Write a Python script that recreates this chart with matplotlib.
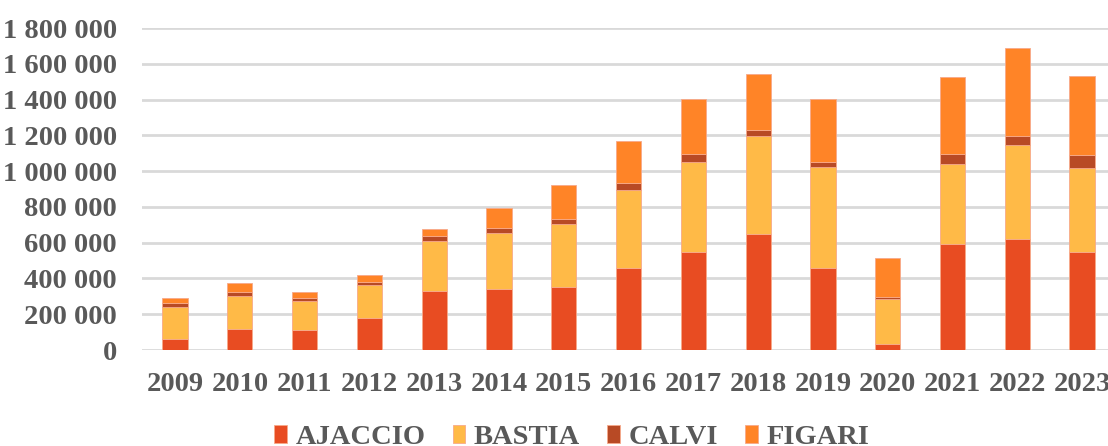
import numpy as np
import matplotlib.pyplot as plt
from matplotlib.ticker import FuncFormatter

years = ['2009', '2010', '2011', '2012', '2013', '2014', '2015', '2016',
         '2017', '2018', '2019', '2020', '2021', '2022', '2023']
ajaccio = [60000, 117000, 112000, 180000, 329000, 340000, 351000, 458000,
           547000, 649000, 460000, 33000, 592000, 620000, 549000]
bastia = [180000, 184000, 161000, 183000, 281000, 313000, 356000, 435000,
          504000, 547000, 563000, 254000, 446000, 524000, 469000]
calvi = [20000, 21000, 17000, 18000, 28000, 28000, 28000, 43000,
         43000, 34000, 30000, 9000, 56000, 50000, 70000]
figari = [28000, 52000, 36000, 36000, 39000, 110000, 190000, 231000,
          311000, 314000, 348000, 216000, 432000, 494000, 445000]

series = [('AJACCIO', ajaccio, '#E84C22'),
          ('BASTIA', bastia, '#FFBA47'),
          ('CALVI', calvi, '#B84A25'),
          ('FIGARI', figari, '#FF8427')]

txt_color = '#595959'
plt.rcParams['font.family'] = ['Liberation Serif', 'DejaVu Serif']
plt.rcParams['font.weight'] = 'bold'

fig = plt.figure(figsize=(11.08, 4.46), dpi=100)
ax = fig.add_axes([142 / 1108, (446 - 350) / 446, (1108 - 142) / 1108, (350 - 28) / 446])

x = np.arange(len(years))
bottom = np.zeros(len(years))
for name, vals, col in series:
    vals = np.array(vals, dtype=float)
    ax.bar(x, vals, width=0.39, bottom=bottom, color=col, label=name,
           edgecolor='#F7A98A', linewidth=0.6, zorder=3)
    bottom += vals

ax.set_xlim(-0.51, len(years) - 1 + 0.4)
ax.set_ylim(0, 1800000)
ax.set_yticks(np.arange(0, 1800001, 200000))
ax.yaxis.set_major_formatter(FuncFormatter(lambda v, p: f'{int(v):,}'.replace(',', ' ')))
ax.grid(axis='y', color='#D9D9D9', linewidth=2, zorder=0)
ax.set_axisbelow(True)

ax.set_xticks(x)
ax.set_xticklabels(years)

ax.tick_params(axis='y', length=0, pad=18, labelsize=20.5, labelcolor=txt_color)
ax.tick_params(axis='x', length=0, pad=16, labelsize=20.5, labelcolor=txt_color)
for s in ax.spines.values():
    s.set_visible(False)

fig.legend(loc='upper center', bbox_to_anchor=(0.516, 0.105), ncol=4,
           frameon=False, fontsize=20.5, labelcolor=txt_color,
           handlelength=0.45, handleheight=0.6, handletextpad=0.3, columnspacing=0.95)

fig.savefig('out.png', dpi=100)
